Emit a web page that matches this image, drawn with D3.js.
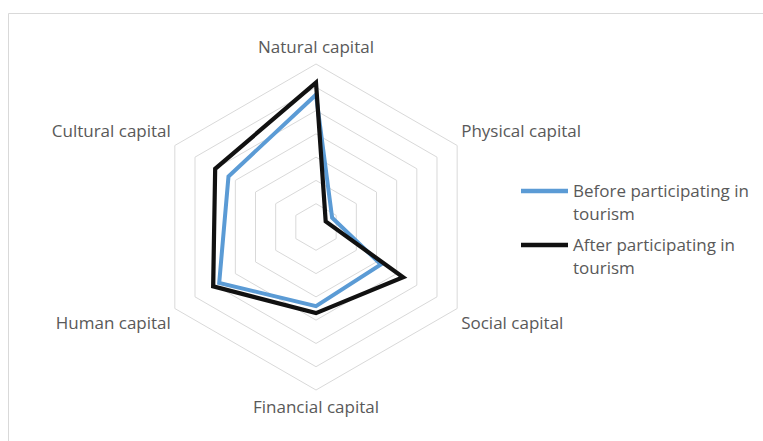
<!DOCTYPE html>
<html>
<head>
<meta charset="utf-8">
<script src="https://cdn.jsdelivr.net/npm/d3@7"></script>
<style>
  html, body { margin: 0; padding: 0; background: #fff; }
  svg { display: block; }
  text { font-family: "Open Sans", "Noto Sans", sans-serif; fill: #595959; }
</style>
</head>
<body>
<svg id="chart" width="763" height="441"></svg>
<script>
// ---- data ----
const categories = ["Natural capital", "Physical capital", "Social capital",
                    "Financial capital", "Human capital", "Cultural capital"];
const seriesNames = ["Before participating in tourism", "After participating in tourism"];
const beforeValues = [2.84, 0.40, 1.61, 1.70, 2.40, 2.17];
const afterValues  = [3.10, 0.24, 2.16, 1.85, 2.55, 2.50];
const ringLevels = [0.5, 1.0, 1.5, 2.0, 2.5, 3.0, 3.5];
const seriesColors = ["#5B9BD5", "#111111"];

// ---- layout ----
const W = 763, H = 441;
const cx = 316, cy = 227, R = 163;
const svg = d3.select("#chart");

// frame (chart area border)
svg.append("path")
  .attr("d", `M8.5,${H} L8.5,13.5 L${W},13.5`)
  .attr("fill", "none").attr("stroke", "#D9D9D9").attr("stroke-width", 1);

const angle = d3.scaleLinear().domain([0, categories.length]).range([0, 2 * Math.PI]);
const r = d3.scaleLinear().domain([0, 3.5]).range([0, R]);

const g = svg.append("g").attr("transform", `translate(${cx},${cy})`);

const radial = d3.lineRadial()
  .angle((d, i) => angle(i))
  .radius(d => r(d))
  .curve(d3.curveLinearClosed);

// grid rings
g.selectAll("path.ring").data(ringLevels).join("path")
  .attr("class", "ring")
  .attr("d", lv => radial(categories.map(() => lv)))
  .attr("fill", "none").attr("stroke", "#D9D9D9").attr("stroke-width", 1);

// series
const series = [beforeValues, afterValues];
g.selectAll("path.series").data(series).join("path")
  .attr("class", "series")
  .attr("d", d => radial(d))
  .attr("fill", "none")
  .attr("stroke", (d, i) => seriesColors[i])
  .attr("stroke-width", (d, i) => i === 0 ? 4 : 4.2)
  .attr("stroke-linejoin", "miter");

// category labels
const fs = 17;
categories.forEach((c, i) => {
  const a = angle(i);
  const x = Math.sin(a) * R, y = -Math.cos(a) * R;
  let anchor = "middle", dx = 0, dy = 0;
  if (i === 0) { dy = -11; }
  else if (i === 3) { dy = 23; }
  else if (x > 0) { anchor = "start"; dx = 4; dy = y < 0 ? -8.5 : 20.5; }
  else { anchor = "end"; dx = -4; dy = y < 0 ? -8.5 : 20.5; }
  g.append("text")
    .attr("x", x + dx).attr("y", y + dy)
    .attr("text-anchor", anchor)
    .attr("font-size", fs)
    .text(c);
});

// legend
const legendLines = [["Before participating in", "tourism"], ["After participating in", "tourism"]];
const lg = svg.append("g");
legendLines.forEach((lines, i) => {
  const y0 = 191 + i * 54;
  lg.append("line")
    .attr("x1", 521).attr("x2", 568).attr("y1", y0).attr("y2", y0)
    .attr("stroke", seriesColors[i]).attr("stroke-width", 4.5);
  lines.forEach((t, j) => {
    lg.append("text")
      .attr("x", 573).attr("y", y0 + 6 + j * 23)
      .attr("font-size", fs)
      .text(t);
  });
});
</script>
</body>
</html>
